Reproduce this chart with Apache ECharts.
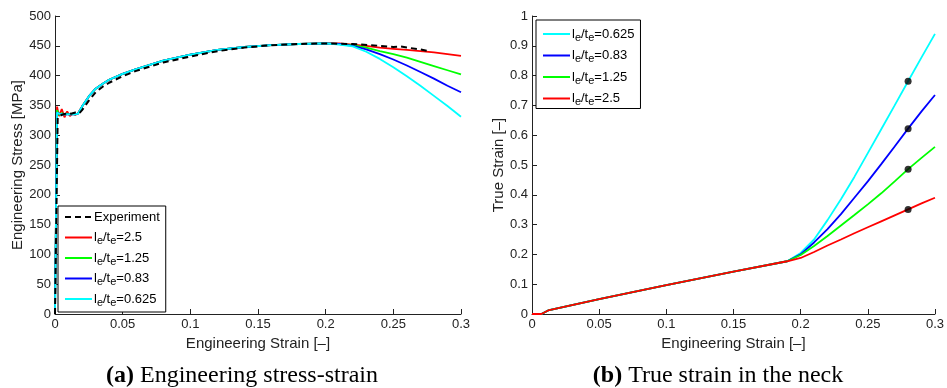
<!DOCTYPE html>
<html>
<head>
<meta charset="utf-8">
<script src="https://cdn.jsdelivr.net/npm/echarts@6/dist/echarts.min.js"></script>
<style>
  html, body { margin: 0; padding: 0; background: #fff; }
  #chart { width: 947px; height: 388px; }
</style>
</head>
<body>
<div id="chart"></div>
<script>
// (a) engineering stress-strain
const feStrain = [0, 0.0015, 0.003, 0.005, 0.007, 0.009, 0.011, 0.013, 0.015, 0.017, 0.02, 0.025, 0.03, 0.035, 0.04, 0.05, 0.06, 0.07, 0.08, 0.1, 0.12, 0.14, 0.16, 0.18, 0.2, 0.21, 0.22, 0.23, 0.24, 0.25, 0.26, 0.27, 0.28, 0.29, 0.3];
const stress25 = [0, 348, 332, 344, 330, 340, 332, 336, 334, 337, 348, 365, 378, 386, 393, 403, 411, 418, 425, 435, 443, 448, 451, 453, 454, 454, 452, 450, 447, 445, 443, 441, 439, 436, 433];
const stress125 = [0, 342, 334, 337, 335, 336, 335, 336, 335, 336, 348, 365, 378, 386, 393, 403, 411, 418, 425, 435, 443, 448, 451, 453, 454, 453, 451, 447, 441, 436, 430, 423, 416, 409, 402];
const stress083 = [0, 338, 336, 335, 335, 335, 335, 335, 335, 336, 348, 365, 378, 386, 393, 403, 411, 418, 425, 435, 443, 448, 451, 453, 454, 453, 450, 444, 436, 427, 417, 406, 395, 383, 372];
const stress0625 = [0, 338, 336, 335, 335, 335, 335, 335, 335, 336, 348, 365, 378, 386, 393, 403, 411, 418, 425, 435, 443, 448, 451, 453, 454, 452, 449, 440, 428, 414, 399, 383, 366, 349, 331];

const expStrain = [0, 0.002, 0.004, 0.006, 0.008, 0.01, 0.012, 0.015, 0.018, 0.02, 0.025, 0.03, 0.035, 0.04, 0.05, 0.06, 0.07, 0.08, 0.1, 0.12, 0.14, 0.16, 0.18, 0.2, 0.22, 0.24, 0.25, 0.255, 0.26, 0.27, 0.276];
const expStress = [0, 330, 333, 335, 336, 337, 336, 338, 337, 342, 358, 372, 381, 388, 399, 408, 415, 422, 432, 441, 447, 451, 453, 454, 453, 450, 448, 449, 447, 444, 441];

// (b) true strain in the neck
const engStrain = [0, 0.007, 0.012, 0.05, 0.1, 0.15, 0.19, 0.2, 0.21, 0.22, 0.23, 0.24, 0.25, 0.26, 0.27, 0.28, 0.29, 0.3];
const neck25 = [0, 0, 0.012, 0.05, 0.097, 0.142, 0.177, 0.188, 0.208, 0.23, 0.25, 0.271, 0.291, 0.311, 0.331, 0.351, 0.371, 0.39];
const neck125 = [0, 0, 0.012, 0.05, 0.097, 0.142, 0.177, 0.198, 0.228, 0.262, 0.297, 0.332, 0.368, 0.405, 0.445, 0.486, 0.524, 0.561];
const neck083 = [0, 0, 0.012, 0.05, 0.097, 0.142, 0.177, 0.2, 0.24, 0.285, 0.335, 0.39, 0.445, 0.503, 0.562, 0.622, 0.68, 0.735];
const neck0625 = [0, 0, 0.012, 0.05, 0.097, 0.142, 0.177, 0.205, 0.25, 0.315, 0.385, 0.46, 0.54, 0.62, 0.7, 0.781, 0.861, 0.94];

const markStrain = 0.28;
const markValues = [0.781, 0.622, 0.486, 0.351];

const leftLegend = ["Experiment", "l_e/t_e=2.5", "l_e/t_e=1.25", "l_e/t_e=0.83", "l_e/t_e=0.625"];
const rightLegend = ["l_e/t_e=0.625", "l_e/t_e=0.83", "l_e/t_e=1.25", "l_e/t_e=2.5"];

const sans = "'Liberation Sans', Arial, sans-serif";
const serif = "'Liberation Serif', 'Times New Roman', serif";
const ink = "#222";

const pairs = (xs, ys) => xs.map((x, i) => [x, ys[i]]);

const chart = echarts.init(document.getElementById("chart"), null, { renderer: "canvas" });

const valueAxis = (gridIndex, min, max, interval, name, nameGap) => ({
  type: "value",
  gridIndex,
  min,
  max,
  interval,
  name,
  nameLocation: "middle",
  nameGap,
  nameTextStyle: { color: ink, fontFamily: sans, fontSize: 15 },
  axisLine: { show: true, onZero: false, lineStyle: { color: ink, width: 1 } },
  axisTick: { show: true, inside: true, length: 5, lineStyle: { color: ink } },
  axisLabel: { color: ink, fontFamily: sans, fontSize: 13, margin: 4 },
  splitLine: { show: false },
});

// subscript "e" pushed down with top padding on its rich token
const legendStyle = (left, top, data, gap, pad) => ({
  data,
  orient: "vertical",
  left,
  top,
  padding: pad,
  itemGap: gap,
  itemWidth: 27,
  itemHeight: 14,
  borderColor: "#000",
  borderWidth: 1,
  borderRadius: 0,
  backgroundColor: "#fff",
  itemStyle: { opacity: 0 },
  formatter: (n) => n.replace(/_e/g, "{s|e}"),
  textStyle: {
    color: "#000",
    fontFamily: sans,
    fontSize: 13,
    lineHeight: 18,
    padding: [0, 0, 0, -3],
    rich: {
      s: { fontFamily: sans, fontSize: 11, lineHeight: 4, padding: [12, 0, 0, 0], verticalAlign: "bottom", color: "#000" },
    },
  },
});

const line = (name, color, x, y, xi, extra) =>
  Object.assign({
    name,
    type: "line",
    xAxisIndex: xi,
    yAxisIndex: xi,
    data: pairs(x, y),
    symbol: "none",
    smooth: false,
    lineStyle: { color, width: 1.8 },
    itemStyle: { color },
  }, extra || {});

const caption = (text, left) => ({
  text,
  left,
  top: 364,
  padding: 0,
  textAlign: "center",
  textStyle: {
    fontFamily: serif, fontSize: 24, fontWeight: "normal", color: "#000",
    rich: { b: { fontFamily: serif, fontSize: 24, fontWeight: "bold", color: "#000" } },
  },
});

chart.setOption({
  animation: false,
  backgroundColor: "#fff",
  title: [
    caption("{b|(a)} Engineering stress-strain", 242),
    caption("{b|(b)} True strain in the neck", 718),
  ],
  grid: [
    { left: 55, top: 16, width: 406, height: 298 },
    { left: 532, top: 16, width: 405, height: 298 },
  ],
  xAxis: [
    valueAxis(0, 0, 0.3, 0.05, "Engineering Strain [\u2013]", 19),
    valueAxis(1, 0, 0.3, 0.05, "Engineering Strain [\u2013]", 19),
  ],
  yAxis: [
    valueAxis(0, 0, 500, 50, "Engineering Stress [MPa]", 30),
    valueAxis(1, 0, 1, 0.1, "True Strain [\u2013]", 25),
  ],
  legend: [
    legendStyle(58, 206, leftLegend, -2.5, [2, 6, 4, 6]),
    legendStyle(536, 20, rightLegend, -1.5, [0, 6, 1, 6]),
  ],
  series: [
    line("l_e/t_e=2.5", "#ff0000", feStrain, stress25, 0),
    line("l_e/t_e=1.25", "#00ff00", feStrain, stress125, 0),
    line("l_e/t_e=0.83", "#0000ff", feStrain, stress083, 0),
    line("l_e/t_e=0.625", "#00ffff", feStrain, stress0625, 0),
    line("Experiment", "#000000", expStrain, expStress, 0, {
      lineStyle: { color: "#000", width: 2, type: [6, 4] },
      z: 5,
    }),
    line("l_e/t_e=0.625", "#00ffff", engStrain, neck0625, 1),
    line("l_e/t_e=0.83", "#0000ff", engStrain, neck083, 1),
    line("l_e/t_e=1.25", "#00ff00", engStrain, neck125, 1),
    line("l_e/t_e=2.5", "#ff0000", engStrain, neck25, 1),
    {
      name: "neck marks",
      type: "scatter",
      xAxisIndex: 1,
      yAxisIndex: 1,
      data: markValues.map((v) => [markStrain, v]),
      symbolSize: 7,
      itemStyle: { color: "#000" },
      z: 6,
    },
  ],
});
</script>
</body>
</html>
